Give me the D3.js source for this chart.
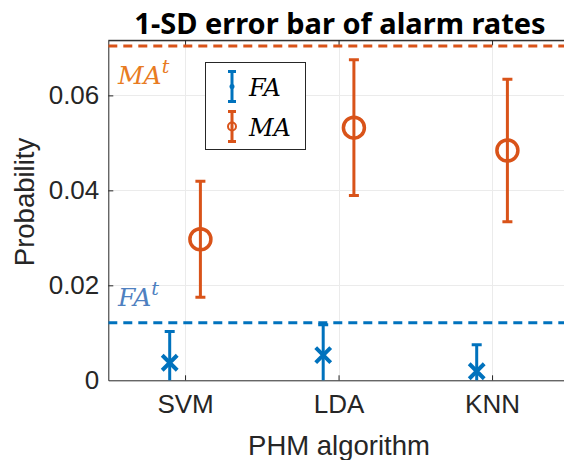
<!DOCTYPE html>
<html>
<head>
<meta charset="utf-8">
<script src="https://cdn.jsdelivr.net/npm/d3@7"></script>
<style>
  body { margin: 0; background: #fff; }
  svg { display: block; }
</style>
</head>
<body>
<div id="chart"></div>
<script>
// data
var categories = ["SVM", "LDA", "KNN"];
var faMean = [0.0037, 0.0053, 0.0019];
var faSD = [0.0066, 0.0064, 0.0056];
var maMean = [0.0297, 0.0532, 0.0484];
var maSD = [0.0122, 0.0143, 0.0150];
var faThreshold = 0.0121;
var maThreshold = 0.0704;
var yTicks = [0, 0.02, 0.04, 0.06];

var W = 564, H = 460;
var plotLeft = 108.3, plotTop = 40.3, plotBottom = 380.3;
var blue = "#0072BD", orange = "#D95319", axisColor = "#262626";

var svg = d3.select("#chart").append("svg")
    .attr("width", W)
    .attr("height", H);

// scales: categories sit at 1,2,3 with xlim [0.5, 3.5]
var x = d3.scaleLinear().domain([0.5, 3.5]).range([plotLeft, plotLeft + 3 * 153.5]);
var y = d3.scaleLinear().domain([0, 0.0716]).range([plotBottom, plotTop]);

svg.append("clipPath").attr("id", "plotclip")
  .append("rect")
    .attr("x", plotLeft).attr("y", plotTop)
    .attr("width", x(3.5) - plotLeft).attr("height", plotBottom - plotTop);

// grid
var grid = svg.append("g").attr("stroke", "#ebebeb").attr("stroke-width", 1);
grid.selectAll("line.gy").data(yTicks.slice(1)).enter().append("line")
    .attr("x1", plotLeft).attr("x2", x(3.5))
    .attr("y1", function(d) { return Math.round(y(d)) + 0.5; })
    .attr("y2", function(d) { return Math.round(y(d)) + 0.5; });
grid.selectAll("line.gx").data(categories).enter().append("line")
    .attr("x1", function(d, i) { return Math.round(x(i + 1)) + 0.5; })
    .attr("x2", function(d, i) { return Math.round(x(i + 1)) + 0.5; })
    .attr("y1", plotTop).attr("y2", plotBottom);

// axes
var xAxis = d3.axisBottom(x)
    .tickValues([1, 2, 3])
    .tickFormat(function(d) { return categories[d - 1]; })
    .tickSizeInner(-5).tickSizeOuter(0).tickPadding(14);
var gx = svg.append("g")
    .attr("transform", "translate(0," + plotBottom + ")")
    .call(xAxis);

var xTop = d3.axisTop(x).tickValues([1, 2, 3]).tickFormat("")
    .tickSizeInner(-5).tickSizeOuter(0);
var gxt = svg.append("g")
    .attr("transform", "translate(0," + plotTop + ")")
    .call(xTop);

var yAxis = d3.axisLeft(y)
    .tickValues(yTicks)
    .tickFormat(function(d) { return d === 0 ? "0" : d3.format(".2f")(d); })
    .tickSizeInner(-5).tickSizeOuter(0).tickPadding(9);
var gy = svg.append("g")
    .attr("transform", "translate(" + plotLeft + ",0)")
    .call(yAxis);

[gx, gxt, gy].forEach(function(g) {
  g.selectAll("path.domain").attr("stroke", axisColor).attr("stroke-width", 1);
  g.selectAll(".tick line").attr("stroke", axisColor);
  g.selectAll("text")
    .attr("fill", axisColor)
    .style("font-family", "'Liberation Sans', Arial, sans-serif")
    .style("font-size", "26px");
});
gy.selectAll(".tick").filter(function(d) { return d === 0; }).select("line").remove();

// threshold lines
var plot = svg.append("g").attr("clip-path", "url(#plotclip)");
plot.append("line")
    .attr("x1", plotLeft).attr("x2", W)
    .attr("y1", y(maThreshold)).attr("y2", y(maThreshold))
    .attr("stroke", orange).attr("stroke-width", 3)
    .attr("stroke-dasharray", "9,6");
plot.append("line")
    .attr("x1", plotLeft).attr("x2", W)
    .attr("y1", y(faThreshold)).attr("y2", y(faThreshold))
    .attr("stroke", blue).attr("stroke-width", 3)
    .attr("stroke-dasharray", "9,6");

// threshold labels
function thresholdLabel(txt, yy, color) {
  var t = svg.append("text")
      .attr("x", 118).attr("y", yy)
      .attr("fill", color)
      .style("font-family", "'DejaVu Serif', 'Liberation Serif', serif")
      .style("font-style", "italic")
      .style("font-size", "25px")
      .text(txt);
  t.append("tspan")
      .attr("dy", -11)
      .style("font-size", "19px")
      .text("t");
}
thresholdLabel("MA", 84, "#E87B22");
thresholdLabel("FA", 306, "#4E80C0");

// error bars
function errorBars(means, sds, offset, color) {
  var g = plot.append("g");
  var capW = 5;
  g.selectAll("line.bar").data(means).enter().append("line")
      .attr("x1", function(d, i) { return x(i + 1 + offset); })
      .attr("x2", function(d, i) { return x(i + 1 + offset); })
      .attr("y1", function(d, i) { return y(d - sds[i]); })
      .attr("y2", function(d, i) { return y(d + sds[i]); })
      .attr("stroke", color).attr("stroke-width", 3);
  g.selectAll("line.capTop").data(means).enter().append("line")
      .attr("x1", function(d, i) { return x(i + 1 + offset) - capW; })
      .attr("x2", function(d, i) { return x(i + 1 + offset) + capW; })
      .attr("y1", function(d, i) { return y(d + sds[i]); })
      .attr("y2", function(d, i) { return y(d + sds[i]); })
      .attr("stroke", color).attr("stroke-width", 3);
  g.selectAll("line.capBot").data(means).enter().append("line")
      .attr("x1", function(d, i) { return x(i + 1 + offset) - capW; })
      .attr("x2", function(d, i) { return x(i + 1 + offset) + capW; })
      .attr("y1", function(d, i) { return y(d - sds[i]); })
      .attr("y2", function(d, i) { return y(d - sds[i]); })
      .attr("stroke", color).attr("stroke-width", 3);
  return g;
}

var faG = errorBars(faMean, faSD, -0.1, blue);
faG.selectAll("path.mark").data(faMean).enter().append("path")
    .attr("transform", function(d, i) { return "translate(" + x(i + 1 - 0.1) + "," + y(d) + ")"; })
    .attr("d", "M-7.5,-7.5L7.5,7.5M-7.5,7.5L7.5,-7.5")
    .attr("stroke", blue).attr("stroke-width", 4).attr("fill", "none");

var maG = errorBars(maMean, maSD, 0.1, orange);
maG.selectAll("circle.mark").data(maMean).enter().append("circle")
    .attr("cx", function(d, i) { return x(i + 1 + 0.1); })
    .attr("cy", function(d) { return y(d); })
    .attr("r", 10.5)
    .attr("fill", "none")
    .attr("stroke", orange).attr("stroke-width", 3.5);

// top border
svg.append("line")
    .attr("x1", plotLeft).attr("x2", W)
    .attr("y1", plotTop).attr("y2", plotTop)
    .attr("stroke", axisColor).attr("stroke-width", 1);

// legend
var lg = svg.append("g");
lg.append("rect")
    .attr("x", 205.5).attr("y", 62.5)
    .attr("width", 100).attr("height", 87)
    .attr("fill", "#fff").attr("stroke", axisColor).attr("stroke-width", 1);
var legendItems = [
  {name: "FA", color: blue, cy: 86.5},
  {name: "MA", color: orange, cy: 126.5}
];
legendItems.forEach(function(d) {
  var cx = 232;
  lg.append("line").attr("x1", cx).attr("x2", cx)
      .attr("y1", d.cy - 15).attr("y2", d.cy + 15)
      .attr("stroke", d.color).attr("stroke-width", 3);
  [-15, 15].forEach(function(o) {
    lg.append("line").attr("x1", cx - 4).attr("x2", cx + 4)
        .attr("y1", d.cy + o).attr("y2", d.cy + o)
        .attr("stroke", d.color).attr("stroke-width", 3);
  });
  if (d.name === "FA") {
    lg.append("circle").attr("cx", cx).attr("cy", d.cy).attr("r", 2.5).attr("fill", d.color);
  } else {
    lg.append("circle").attr("cx", cx).attr("cy", d.cy).attr("r", 4)
        .attr("fill", "none").attr("stroke", d.color).attr("stroke-width", 2);
  }
  lg.append("text")
      .attr("x", 249).attr("y", d.cy + 9)
      .attr("fill", "#000")
      .style("font-family", "'DejaVu Serif', 'Liberation Serif', serif")
      .style("font-style", "italic")
      .style("font-size", "24px")
      .text(d.name);
});

// title and axis labels
svg.append("text")
    .attr("x", 340).attr("y", 34)
    .attr("text-anchor", "middle")
    .attr("fill", "#000")
    .style("font-family", "'Noto Sans', sans-serif")
    .style("font-weight", "bold")
    .style("font-size", "29px")
    .text("1-SD error bar of alarm rates");

svg.append("text")
    .attr("x", 339).attr("y", 455)
    .attr("text-anchor", "middle")
    .attr("fill", axisColor)
    .style("font-family", "'Liberation Sans', Arial, sans-serif")
    .style("font-size", "27.5px")
    .text("PHM algorithm");

svg.append("text")
    .attr("transform", "translate(34,202) rotate(-90)")
    .attr("text-anchor", "middle")
    .attr("fill", axisColor)
    .style("font-family", "'Liberation Sans', Arial, sans-serif")
    .style("font-size", "27.5px")
    .text("Probability");
</script>
</body>
</html>
